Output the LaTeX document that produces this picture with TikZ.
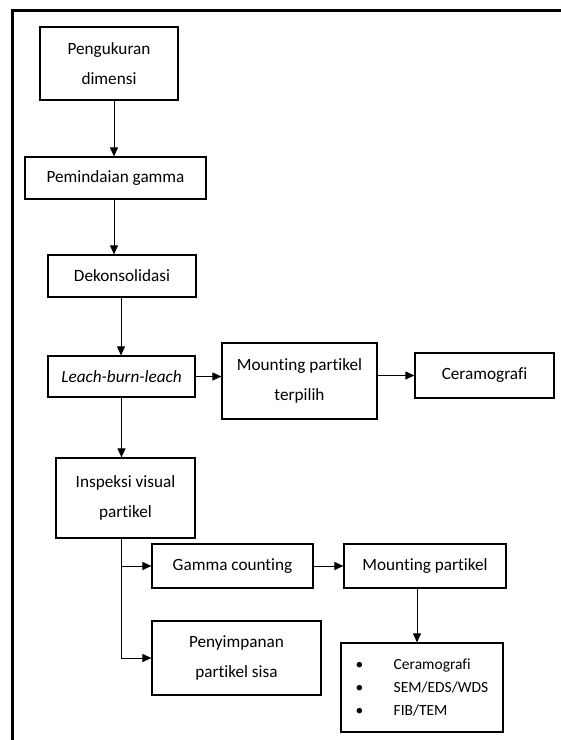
\documentclass[tikz,border=0pt]{standalone}
\usepackage{fontspec}
\setmainfont[Ligatures=NoCommon]{Carlito}
\usetikzlibrary{arrows.meta}

\tikzset{
  kotak/.style={draw,line width=1.2pt,inner sep=0pt,align=center,font=\fontsize{17.2}{30}\selectfont},
  panah/.style={line width=0.9pt,-{Triangle[length=9pt,width=8pt]}},
}

\begin{document}
\begin{tikzpicture}[x=1pt,y=-1pt]
\useasboundingbox (0,0) rectangle (561,740);
%frame
\draw[line width=3pt] (575,10) -- (12.5,10) -- (12.5,755);
%main column
\node[kotak,minimum width=138pt,minimum height=73pt] (ukur) at (109,63.5) {Pengukuran\\dimensi};
\node[kotak,minimum width=181pt,minimum height=42pt] (pindai) at (115.5,178) {Pemindaian gamma};
\node[kotak,minimum width=148pt,minimum height=42pt] (dekon) at (122,276) {Dekonsolidasi};
\node[kotak,minimum width=147pt,minimum height=41pt] (leach) at (121.5,376.5) {\itshape Leach-burn-leach};
\node[kotak,minimum width=139pt,minimum height=80pt] (inspeksi) at (125.5,498) {Inspeksi visual\\partikel};
%right side
\node[kotak,minimum width=155pt,minimum height=76pt] (mountT) at (299.5,381) {Mounting partikel\\terpilih};
\node[kotak,minimum width=139pt,minimum height=45pt] (ceramo) at (484.5,375.5) {Ceramografi};
%bottom part
\node[kotak,minimum width=161pt,minimum height=44pt] (gamma) at (232.5,566) {Gamma counting};
\node[kotak,minimum width=162pt,minimum height=44pt] (mount) at (425,566) {Mounting partikel};
\node[kotak,minimum width=169pt,minimum height=74pt] (simpan) at (236.5,658) {Penyimpanan\\partikel sisa};
\node[kotak,minimum width=162pt,minimum height=89pt,align=left,font=\fontsize{15.5}{23}\selectfont] (analisis) at (422,687.5)
  {\makebox[38pt][l]{\textbullet}Ceramografi\\\makebox[38pt][l]{\textbullet}SEM/EDS/WDS\\\makebox[38pt][l]{\textbullet}FIB/TEM};
%arrows
\draw[panah] ([xshift=5pt]ukur.south) -- ([xshift=5pt]ukur.south |- pindai.north);
\draw[panah] ([xshift=-1.5pt]pindai.south) -- ([xshift=-1.5pt]pindai.south |- dekon.north);
\draw[panah] ([xshift=-1pt]dekon.south) -- ([xshift=-1pt]dekon.south |- leach.north);
\draw[panah] (leach.south) -- (leach.south |- inspeksi.north);
\draw[panah] (leach.east) -- (leach.east -| mountT.west);
\draw[panah] (mountT.east |- ceramo.west) -- (ceramo.west);
\coordinate (trunk) at ([xshift=-4.5pt]inspeksi.south);
\draw[line width=0.9pt] (trunk) -- (trunk |- simpan.west);
\foreach \n in {gamma,simpan}{
\draw[panah] (trunk |- \n.west) -- (\n.west);
}
\draw[panah] (gamma.east) -- (gamma.east -| mount.west);
\draw[panah] ([xshift=-8pt]mount.south) -- ([xshift=-8pt]mount.south |- analisis.north);
\end{tikzpicture}
\end{document}
